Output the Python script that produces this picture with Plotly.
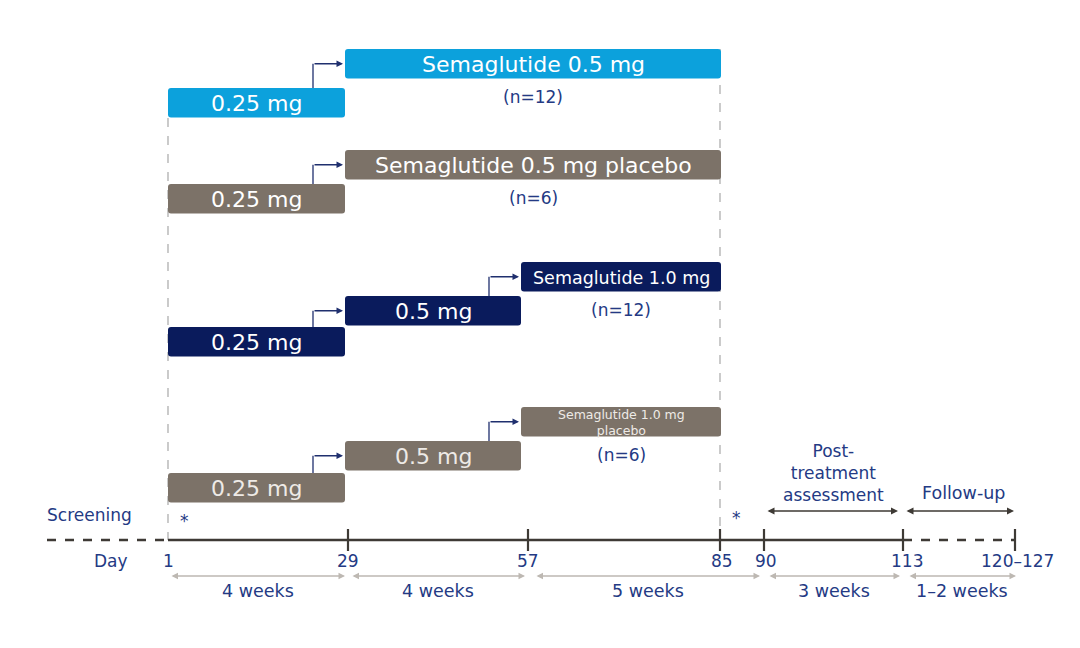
import plotly.graph_objects as go

# ---------------- data ----------------
milestone_days = ["1", "29", "57", "85", "90", "113", "120–127"]
period_labels = ["4 weeks", "4 weeks", "5 weeks", "3 weeks", "1–2 weeks"]
arm_final_labels = ["Semaglutide 0.5 mg", "Semaglutide 0.5 mg placebo",
                    "Semaglutide 1.0 mg", "Semaglutide 1.0 mg<br>placebo"]
arm_n = [12, 6, 12, 6]
arm_titration = [["0.25 mg"], ["0.25 mg"], ["0.25 mg", "0.5 mg"], ["0.25 mg", "0.5 mg"]]
phase_labels = ["Screening", "Post-<br>treatment<br>assessment", "Follow-up"]

# ---------------- layout / styling ----------------
W, H = 1080, 648
OFF = 8  # page body margin
NAVY_TXT = "#243A84"
AXIS_C = "#3E3A35"
GRAY_ARROW = "#BDB8B2"
FONT = "DejaVu Sans"
arm_colors = ["#0CA1DC", "#7C7268", "#0A1B5C", "#7C7268"]
arm_text_colors = ["white", "white", "white", "#EEEAE6"]
arm_final_font = [22, 22, 17.5, 12.5]
milestone_x = [168, 348, 528, 720, 764, 903, 1015]
box_edges = [168, 345, 521, 721]
arm_box_top = [[88, 49], [184, 150], [327, 296, 262], [473, 441, 407]]
BOX_H = 29.5
AXIS_Y = 540

fig = go.Figure()
shapes, annots = [], []


def rrect(x0, y0, x1, y1, r=3):
    return (f"M {x0+r},{y0} L {x1-r},{y0} Q {x1},{y0} {x1},{y0+r} "
            f"L {x1},{y1-r} Q {x1},{y1} {x1-r},{y1} L {x0+r},{y1} "
            f"Q {x0},{y1} {x0},{y1-r} L {x0},{y0+r} Q {x0},{y0} {x0+r},{y0} Z")


def text(x, y, s, size=17, color=NAVY_TXT, **kw):
    annots.append(dict(x=x, y=y, xref="x", yref="y", text=s, showarrow=False,
                       font=dict(family=FONT, size=size, color=color), **kw))


# dashed vertical guide lines
shapes.append(dict(type="line", x0=box_edges[0], x1=box_edges[0], y0=118, y1=AXIS_Y,
                   line=dict(color="#A8A8A8", width=1.2, dash="dash"), layer="below"))
shapes.append(dict(type="line", x0=box_edges[-1] - 1, x1=box_edges[-1] - 1, y0=49, y1=AXIS_Y,
                   line=dict(color="#A8A8A8", width=1.2, dash="dash"), layer="below"))

# arms
for a, (steps, final, n) in enumerate(zip(arm_titration, arm_final_labels, arm_n)):
    tops = arm_box_top[a]
    col = arm_colors[a]
    labels = steps + [final]
    for k, lab in enumerate(labels):
        x0 = box_edges[k]
        x1 = box_edges[k + 1] if k < len(steps) else box_edges[-1]
        y0 = tops[k]
        y1 = y0 + BOX_H
        shapes.append(dict(type="path", path=rrect(x0, y0, x1, y1), fillcolor=col,
                           line=dict(width=0), layer="above"))
        fs = 22 if k < len(steps) else arm_final_font[a]
        text((x0 + x1) / 2, (y0 + y1) / 2 + 1, lab, size=fs, color=arm_text_colors[a])
        if k > 0:
            # step-up arrow from previous box to this box
            vx = box_edges[k] - 32
            ymid = y0 + BOX_H / 2
            shapes.append(dict(type="line", x0=vx, x1=vx, y0=tops[k - 1], y1=ymid,
                               line=dict(color="#1F2F6E", width=1.3)))
            annots.append(dict(x=x0 - 2, y=ymid, ax=vx, ay=ymid, xref="x", yref="y",
                               axref="x", ayref="y", text="", showarrow=True,
                               arrowhead=2, arrowsize=1, arrowwidth=1.3,
                               arrowcolor="#1F2F6E"))
        if k == len(steps):
            text((x0 + x1) / 2, y1 + 18, f"(n={n})", size=17)

# timeline
shapes.append(dict(type="line", x0=47, x1=milestone_x[0], y0=AXIS_Y, y1=AXIS_Y,
                   line=dict(color=AXIS_C, width=2.5, dash="dash")))
shapes.append(dict(type="line", x0=milestone_x[0], x1=milestone_x[5], y0=AXIS_Y, y1=AXIS_Y,
                   line=dict(color=AXIS_C, width=2.5)))
shapes.append(dict(type="line", x0=milestone_x[5], x1=milestone_x[6], y0=AXIS_Y, y1=AXIS_Y,
                   line=dict(color=AXIS_C, width=2.5, dash="dash")))
for mx in milestone_x[1:]:
    shapes.append(dict(type="line", x0=mx, x1=mx, y0=AXIS_Y - 11, y1=AXIS_Y + 11,
                       line=dict(color=AXIS_C, width=2.2)))

# day labels
text(111, 561, "Day", size=17)
day_offsets = [0, 0, 0, 2, 2, 4, 2]
for d, mx, off in zip(milestone_days, milestone_x, day_offsets):
    text(mx + off, 561, d, size=17)

# period arrows
period_spans = [(170, 345), (351, 525), (535, 760), (768, 900), (908, 1016)]
for (x0, x1), lab in zip(period_spans, period_labels):
    annots.append(dict(x=x1, y=576, ax=x0, ay=576, xref="x", yref="y", axref="x",
                       ayref="y", text="", showarrow=True, arrowhead=2, arrowside="end+start",
                       arrowsize=1, arrowwidth=1.3, arrowcolor=GRAY_ARROW))
    text((x0 + x1) / 2, 591, lab, size=17.5)

# phases
text(89, 515, phase_labels[0], size=17)
text(833, 473, phase_labels[1], size=17)
text(963, 493, phase_labels[2], size=17.5)
for x0, x1 in [(766, 898), (905, 1014)]:
    annots.append(dict(x=x1, y=511, ax=x0, ay=511, xref="x", yref="y", axref="x",
                       ayref="y", text="", showarrow=True, arrowhead=2, arrowside="end+start",
                       arrowsize=1, arrowwidth=1.4, arrowcolor=AXIS_C))

# asterisks
text(184, 521, "*", size=17)
text(736, 518, "*", size=17)

fig.update_layout(
    width=W, height=H, margin=dict(l=0, r=0, t=0, b=0),
    paper_bgcolor="white", plot_bgcolor="white",
    xaxis=dict(range=[OFF, W + OFF], visible=False, fixedrange=True),
    yaxis=dict(range=[H + OFF, OFF], visible=False, fixedrange=True),
    shapes=shapes, annotations=annots, showlegend=False,
)
fig.write_html("out.html")
